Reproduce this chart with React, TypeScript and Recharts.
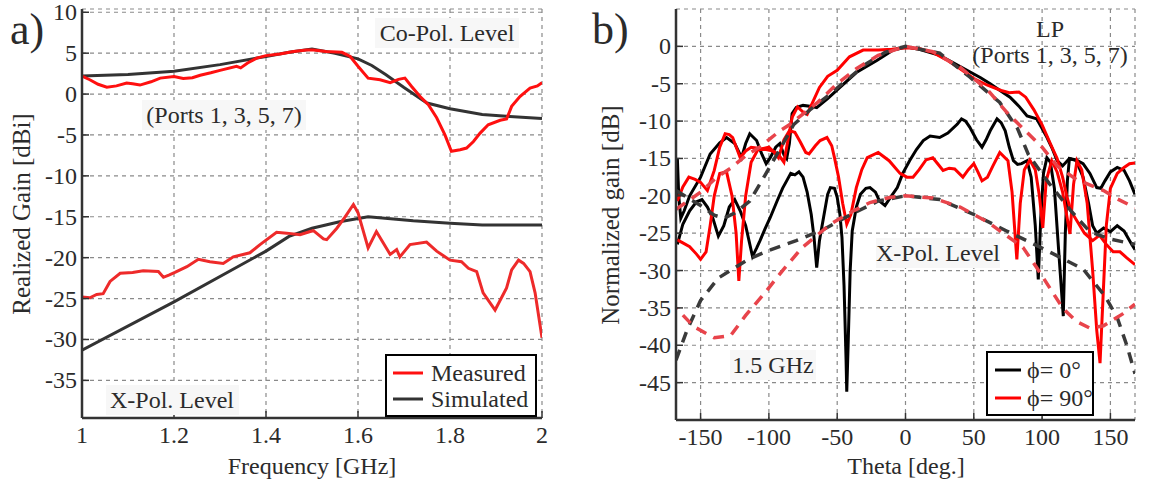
import React from 'react';
import { LineChart, Line, XAxis, YAxis, CartesianGrid } from 'recharts';

const FONT = '"Liberation Serif", "Times New Roman", serif';
const TXT = '#2b2b2b';
const FRAME = '#333333';

// ---------- Panel a) ----------
const freqTicks = [1, 1.2, 1.4, 1.6, 1.8, 2];
const gainTicks = [10, 5, 0, -5, -10, -15, -20, -25, -30, -35];

const coPolMeasured: [number, number][] = [
  [1.0, 2.2], [1.017, 1.75], [1.035, 1.2], [1.054, 0.85], [1.075, 1.0], [1.097, 1.35], [1.11, 1.25],
  [1.126, 1.1], [1.15, 1.5], [1.17, 1.95], [1.2, 2.15], [1.22, 1.9], [1.24, 2.0], [1.257, 2.3],
  [1.28, 2.6], [1.3, 2.9], [1.336, 3.4], [1.345, 3.2], [1.36, 3.8], [1.38, 4.4], [1.4, 4.7],
  [1.43, 4.9], [1.46, 5.2], [1.488, 5.4], [1.503, 5.4], [1.53, 5.2], [1.565, 5.1], [1.583, 4.6],
  [1.6, 3.4], [1.622, 1.95], [1.648, 1.75], [1.67, 1.4], [1.688, 1.8], [1.702, 1.95], [1.717, 0.9],
  [1.735, -0.3], [1.753, -1.3], [1.771, -2.9], [1.789, -5.0], [1.803, -7.0], [1.822, -6.8],
  [1.836, -6.6], [1.851, -5.8], [1.865, -4.8], [1.883, -3.75], [1.909, -3.2], [1.923, -3.05],
  [1.934, -1.5], [1.952, -0.3], [1.974, 0.73], [1.99, 1.0], [2.0, 1.4],
];
const coPolSimulated: [number, number][] = [
  [1.0, 2.2], [1.1, 2.4], [1.2, 2.8], [1.3, 3.6], [1.4, 4.6], [1.45, 5.1], [1.5, 5.5], [1.55, 5.0],
  [1.6, 4.3], [1.63, 3.5], [1.66, 2.4], [1.7, 0.8], [1.75, -1.1], [1.8, -1.8], [1.87, -2.5],
  [1.93, -2.75], [2.0, -3.0],
];
const xPolMeasured: [number, number][] = [
  [1.0, -24.8], [1.017, -24.9], [1.032, -24.5], [1.046, -24.4], [1.061, -22.9], [1.083, -21.9],
  [1.11, -21.8], [1.133, -21.6], [1.166, -21.7], [1.177, -22.4], [1.19, -22.1], [1.202, -21.8],
  [1.228, -21.1], [1.253, -20.2], [1.278, -20.5], [1.307, -20.7], [1.329, -19.9], [1.365, -19.4],
  [1.387, -18.4], [1.423, -16.9], [1.445, -17.0], [1.474, -17.2], [1.496, -16.8], [1.503, -16.7],
  [1.525, -17.7], [1.532, -17.8], [1.554, -16.4], [1.572, -15.0], [1.59, -13.5], [1.6, -14.5],
  [1.622, -18.8], [1.64, -16.8], [1.655, -18.2], [1.67, -19.6], [1.684, -19.0], [1.691, -19.9],
  [1.713, -18.4], [1.749, -18.1], [1.771, -19.2], [1.8, -20.3], [1.825, -20.5], [1.84, -21.3],
  [1.858, -21.7], [1.872, -24.3], [1.898, -26.4], [1.923, -23.7], [1.934, -21.5], [1.949, -20.3],
  [1.96, -20.7], [1.974, -21.7], [1.985, -24.3], [2.0, -29.8],
];
const xPolSimulated: [number, number][] = [
  [1.0, -31.3], [1.2, -25.4], [1.4, -19.2], [1.45, -17.4], [1.5, -16.4], [1.56, -15.6],
  [1.622, -15.0], [1.72, -15.5], [1.8, -15.8], [1.87, -16.0], [2.0, -16.0],
];

// ---------- Panel b) ----------
const thetaTicks = [-150, -100, -50, 0, 50, 100, 150];
const normTicks = [0, -5, -10, -15, -20, -25, -30, -35, -40, -45];

const coPhi0Measured: [number, number][] = [
  [-167, -15], [-166, -20], [-164.5, -23], [-162, -22], [-158, -20], [-150, -17.5], [-143, -14.4],
  [-136, -12.9], [-131, -12.2], [-125, -13], [-120, -14.9], [-117, -13], [-114, -11.7], [-109, -12.6],
  [-105, -14.5], [-102, -15.7], [-99, -14.9], [-95, -13.5], [-92, -13], [-89, -14.5], [-87, -15],
  [-85, -13], [-83, -9], [-80, -8.2], [-75, -7.9], [-70, -8], [-65, -8.2], [-61, -7.6], [-57, -7],
  [-48, -5.5], [-36, -3.5], [-21, -1.9], [-9, -0.5], [1, -0.1], [10, -0.4], [25, -1.2], [35, -2.2],
  [47, -3.4], [55, -4.2], [62, -5], [70, -6], [76.5, -6.8], [83, -8], [89, -9.3], [96, -9.7],
  [100, -11], [103.6, -12.2], [107, -13.5], [111, -15.3], [115, -16], [120, -15], [125, -15.3],
  [130, -17.5], [134, -21], [137, -24], [140, -25], [145, -24.3], [150, -24.8], [155, -24],
  [160, -24.7], [165, -26.3], [168, -27.2],
];
const xPhi0Measured: [number, number][] = [
  [-167, -26.5], [-163, -23.8], [-158, -22], [-153, -20.8], [-149, -20.5], [-145, -21.5], [-141, -23],
  [-137, -25.4], [-133, -24], [-129, -21.5], [-125, -20.5], [-121, -22], [-117, -24], [-112, -28.1],
  [-109, -27], [-106.5, -26], [-103, -24.5], [-99, -22.9], [-94, -20.7], [-90, -19], [-87, -18],
  [-84, -17], [-81, -17.2], [-78, -16.8], [-75, -17.5], [-72, -19.5], [-69, -22.5], [-67, -25.5],
  [-65, -29.6], [-63, -26], [-60, -22.9], [-57, -19.8], [-55, -18.9], [-52, -19], [-50, -20.2],
  [-48, -22.5], [-46.5, -25.6], [-45, -32], [-43.5, -42], [-43, -46.2], [-42, -40], [-40.5, -30],
  [-39, -24.7], [-36, -21.5], [-33, -19.8], [-29, -19], [-26, -18.9], [-22, -19.5], [-19, -20.7],
  [-15, -21.3], [-11, -20.2], [-6, -18.9], [-2, -17], [3, -15.3], [8, -13.8], [13, -12.6], [18, -12],
  [25, -12.2], [31, -11.6], [38, -10.4], [41, -9.7], [44, -10], [47, -10.8], [52, -12.5], [56, -13.5],
  [59, -12.5], [62, -11.3], [67, -9.7], [70, -10.2], [73, -11.3], [76, -13.5], [79, -15.3], [82, -15.8],
  [85, -15.7], [89, -15.3], [92, -17.5], [95, -24], [97.2, -31.2], [99, -23], [101, -17], [103.5, -14.9],
  [106, -15.5], [109, -19], [112, -27], [115.5, -36.1], [117, -25], [118.5, -18], [120, -15], [125, -15.2],
  [130, -15.7], [135, -17], [140, -18.9], [143, -19], [146, -18], [150, -16.8], [155, -16.2], [160, -16.6],
  [164, -18], [168, -19.8],
];
const coPhi90Measured: [number, number][] = [
  [-167, -25.9], [-163, -26.3], [-158, -26.8], [-153, -27.8], [-150, -28.5], [-146, -27.5], [-143, -24],
  [-140, -20], [-136, -17], [-131, -16.8], [-127, -20], [-124, -25], [-122, -31.4], [-120, -26],
  [-117, -20], [-113, -15.5], [-108, -13.8], [-102, -13.8], [-97, -14], [-93, -14.5], [-89, -15.5],
  [-86, -12.5], [-83, -9.5], [-79, -8.1], [-75, -8.8], [-72, -9.1], [-68, -7.5], [-63, -5.5], [-57, -4],
  [-50, -3.2], [-41, -1.4], [-31, -0.5], [-20, -0.5], [-10, -0.4], [0, -0.2], [10, -0.3], [20, -0.8],
  [30, -1.8], [40, -3], [50, -4.3], [60, -5.2], [70, -5.9], [76, -6.2], [83, -6.1], [88, -6.8],
  [94, -8.5], [100, -10.5], [106, -13], [111, -15], [115, -17.5], [118, -20], [121, -22], [126, -23.5],
  [131, -25], [137, -26], [142, -25.3], [147, -26.5], [152, -27.5], [157, -27.5], [162, -28.3], [168, -29.2],
];
const xPhi90Measured: [number, number][] = [
  [-167, -20.7], [-163, -18.8], [-158.6, -17.5], [-154, -17.8], [-150, -18.2], [-145, -19.3], [-140, -16.6],
  [-136, -13.5], [-132, -11.7], [-129, -11.8], [-126.5, -12.2], [-121, -14.9], [-117, -14], [-113, -13.5],
  [-105, -13.7], [-100, -13.5], [-96, -14.2], [-93, -14.9], [-89, -12.5], [-85, -11.3], [-81, -11.5],
  [-77, -12.8], [-73, -14.2], [-70.6, -14.4], [-66, -13.3], [-62.5, -12.6], [-57.5, -12.2], [-54, -13.3],
  [-52, -14.9], [-49, -17.5], [-46, -21], [-43, -23.8], [-40, -22.5], [-36, -18.9], [-32, -16.5],
  [-28, -14.9], [-20, -14.2], [-12, -15.3], [-4, -17], [1, -17.5], [5.5, -17.5], [10, -16.5], [15, -15.2],
  [20, -14.9], [24, -15.8], [27.5, -16.6], [32, -16.3], [36, -16.4], [42, -17.5], [46, -16.5], [50, -15.7],
  [53, -16.8], [56, -18], [60, -17.5], [64, -16], [69, -14.2], [75, -15.3], [78, -19.5], [81.5, -28.5],
  [84, -21], [87, -16.5], [91, -15.2], [95, -16.5], [98, -20], [100.5, -24.3], [103, -18], [107, -15.3],
  [111, -16.8], [115, -19.5], [120.4, -25.1], [123, -18.5], [125.5, -15.3], [129, -16.5], [133, -21],
  [137, -30], [140, -38], [142.4, -42.4], [144.5, -34], [147, -24], [150, -19], [155, -17], [160, -16.2],
  [164, -15.7], [168, -15.6],
];
const coPhi0Simulated: [number, number][] = [
  [-168, -19.3], [-160, -20.2], [-150, -21.3], [-140, -22.6], [-133, -23], [-125, -22.3], [-114, -20.7],
  [-103, -17.3], [-92, -13.8], [-82, -10.5], [-70, -8.5], [-58, -6.8], [-45, -4.8], [-30, -2.5],
  [-15, -0.8], [0, 0], [25, -0.9], [47, -4.1], [69, -7.5], [82, -11], [90, -14.5], [105, -18.3],
  [122, -22.2], [135, -24.8], [150, -25.8], [168, -26.5],
];
const coPhi90Simulated: [number, number][] = [
  [-168, -21.8], [-160, -20.8], [-150, -19.5], [-138, -17.5], [-128, -16.3], [-116, -14.5], [-106, -13.4],
  [-92, -11.3], [-85, -10.5], [-72, -8.6], [-65, -7.6], [-50, -5], [-36, -3], [-20, -1.2], [0, 0],
  [20, -0.7], [40, -2.8], [60, -5.8], [74, -8.8], [86, -11], [100, -13.5], [111, -16], [125, -17.8],
  [145, -19.3], [155, -20.4], [168, -21.6],
];
const xPhi0Simulated: [number, number][] = [
  [-168, -42], [-160, -38], [-150, -34], [-137, -31], [-115, -28.5], [-100, -27.3], [-80, -26],
  [-60, -24.5], [-40, -22.5], [-20, -20.7], [0, -20], [25, -20.5], [50, -22.5], [74, -24.7],
  [100, -27], [130, -29.8], [146, -33.4], [155, -36.3], [162, -40], [168, -43.8],
];
const xPhi90Simulated: [number, number][] = [
  [-168, -35], [-155, -37.5], [-140, -39], [-128, -38.7], [-117, -36], [-103, -33], [-90, -30],
  [-76, -27], [-55, -23.8], [-40, -22.2], [-26, -20.9], [-11, -20.2], [0, -20], [20, -20.3],
  [40, -21.5], [60, -23.5], [86, -26.9], [96, -29.6], [115, -35], [125, -36.8], [135, -37.7],
  [145, -37.4], [159, -35.8], [168, -34.5],
];

const toRows = (pts: [number, number][]) => pts.map(([x, y]) => ({ x, y }));

// ---------- geometry ----------
const A = { w: 570, h: 479, left: 82, right: 542, top: 9, bottom: 418 };
const B = { off: 580, w: 569, h: 479, left: 96, right: 555, top: 9, bottom: 420 };
const TL = 7;

const mkBottomTick = (bottom: number) => (p: any) => (
  <g>
    <line x1={p.x} x2={p.x} y1={bottom} y2={bottom - TL} stroke={FRAME} strokeWidth={1.5} />
    <text x={p.x} y={bottom + 25} textAnchor="middle" fontSize={24} fill={TXT} fontFamily={FONT}>
      {String(p.payload.value)}
    </text>
  </g>
);
const mkTopTick = (top: number) => (p: any) => (
  <line x1={p.x} x2={p.x} y1={top} y2={top + TL} stroke={FRAME} strokeWidth={1.5} />
);
const mkLeftTick = (left: number) => (p: any) => (
  <g>
    <line x1={left} x2={left + TL} y1={p.y} y2={p.y} stroke={FRAME} strokeWidth={1.5} />
    <text x={left - 5} y={p.y + 8} textAnchor="end" fontSize={24} fill={TXT} fontFamily={FONT}>
      {String(p.payload.value)}
    </text>
  </g>
);
const mkRightTick = (right: number) => (p: any) => (
  <line x1={right} x2={right - TL} y1={p.y} y2={p.y} stroke={FRAME} strokeWidth={1.5} />
);

const axisLine = { stroke: FRAME, strokeWidth: 2.5 };

function PanelA() {
  const dom: [number, number] = [1, 2];
  const ydom: [number, number] = [-39.6, 10.4];
  return (
    <LineChart width={A.w} height={A.h} margin={{ top: A.top, right: A.w - A.right, bottom: A.h - A.bottom - 40, left: A.left - 60 }}>
      <CartesianGrid stroke="#8a8a8a" strokeDasharray="4 4" strokeWidth={1.2} />
      <XAxis dataKey="x" type="number" domain={dom} ticks={freqTicks} interval={0} allowDataOverflow height={40}
        tickLine={false} axisLine={axisLine} tick={mkBottomTick(A.bottom)} />
      <XAxis xAxisId="top" orientation="top" dataKey="x" type="number" domain={dom} ticks={freqTicks} interval={0}
        height={0} tickLine={false} axisLine={axisLine} tick={mkTopTick(A.top)} />
      <YAxis type="number" domain={ydom} ticks={gainTicks} interval={0} allowDataOverflow width={60}
        tickLine={false} axisLine={axisLine} tick={mkLeftTick(A.left)} />
      <YAxis yAxisId="right" orientation="right" type="number" domain={ydom} ticks={gainTicks} interval={0}
        width={0} tickLine={false} axisLine={axisLine} tick={mkRightTick(A.right)} />
      <Line data={toRows(coPolSimulated)} dataKey="y" type="linear" dot={false} stroke="#333333" strokeWidth={3} isAnimationActive={false} />
      <Line data={toRows(xPolSimulated)} dataKey="y" type="linear" dot={false} stroke="#333333" strokeWidth={3} isAnimationActive={false} />
      <Line data={toRows(coPolMeasured)} dataKey="y" type="linear" dot={false} stroke="#ff1010" strokeWidth={3} isAnimationActive={false} />
      <Line data={toRows(xPolMeasured)} dataKey="y" type="linear" dot={false} stroke="#ee2a2a" strokeWidth={3} isAnimationActive={false} />
    </LineChart>
  );
}

function PanelB() {
  const dom: [number, number] = [-168, 168];
  const ydom: [number, number] = [-50, 5];
  const dashBlack = { stroke: '#3a3a3a', strokeWidth: 3.5, strokeDasharray: '11 8' };
  const dashRed = { stroke: '#e8444b', strokeWidth: 3.5, strokeDasharray: '11 8' };
  return (
    <LineChart width={B.w} height={B.h} margin={{ top: B.top, right: B.w - B.right, bottom: B.h - B.bottom - 40, left: B.left - 60 }}>
      <CartesianGrid stroke="#8a8a8a" strokeDasharray="4 4" strokeWidth={1.2} />
      <XAxis dataKey="x" type="number" domain={dom} ticks={thetaTicks} interval={0} allowDataOverflow height={40}
        tickLine={false} axisLine={axisLine} tick={mkBottomTick(B.bottom)} />
      <XAxis xAxisId="top" orientation="top" dataKey="x" type="number" domain={dom} ticks={thetaTicks} interval={0}
        height={0} tickLine={false} axisLine={axisLine} tick={mkTopTick(B.top)} />
      <YAxis type="number" domain={ydom} ticks={normTicks} interval={0} allowDataOverflow width={60}
        tickLine={false} axisLine={axisLine} tick={mkLeftTick(B.left)} />
      <YAxis yAxisId="right" orientation="right" type="number" domain={ydom} ticks={normTicks} interval={0}
        width={0} tickLine={false} axisLine={axisLine} tick={mkRightTick(B.right)} />
      <Line data={toRows(coPhi0Measured)} dataKey="y" type="linear" dot={false} stroke="#000000" strokeWidth={3} isAnimationActive={false} />
      <Line data={toRows(xPhi0Measured)} dataKey="y" type="linear" dot={false} stroke="#000000" strokeWidth={3} isAnimationActive={false} />
      <Line data={toRows(coPhi90Measured)} dataKey="y" type="linear" dot={false} stroke="#ff0000" strokeWidth={3} isAnimationActive={false} />
      <Line data={toRows(xPhi90Measured)} dataKey="y" type="linear" dot={false} stroke="#ff0000" strokeWidth={3} isAnimationActive={false} />
      <Line data={toRows(coPhi0Simulated)} dataKey="y" type="linear" dot={false} {...dashBlack} isAnimationActive={false} />
      <Line data={toRows(xPhi0Simulated)} dataKey="y" type="linear" dot={false} {...dashBlack} isAnimationActive={false} />
      <Line data={toRows(coPhi90Simulated)} dataKey="y" type="linear" dot={false} {...dashRed} isAnimationActive={false} />
      <Line data={toRows(xPhi90Simulated)} dataKey="y" type="linear" dot={false} {...dashRed} strokeDashoffset={9} isAnimationActive={false} />
    </LineChart>
  );
}

const T = (props: any) => <text fontFamily={FONT} fill={TXT} fontSize={24} {...props} />;

function Overlay() {
  const bg = '#f7f7f7';
  return (
    <svg width={1149} height={479} style={{ position: 'absolute', left: 0, top: 0, pointerEvents: 'none' }}>
      {/* panel labels */}
      <T x={10} y={44} fontSize={44}>a)</T>
      <T x={592} y={44} fontSize={44}>b)</T>
      {/* axis titles */}
      <T x={312} y={474} fontSize={24} textAnchor="middle">Frequency [GHz]</T>
      <T x={30} y={214} fontSize={25} textAnchor="middle" transform="rotate(-90 30 214)">Realized Gain [dBi]</T>
      <T x={906} y={474} fontSize={24} textAnchor="middle">Theta [deg.]</T>
      <T x={619} y={215} fontSize={25} textAnchor="middle" transform="rotate(-90 619 215)">Normalized gain [dB]</T>
      {/* panel a annotations */}
      <rect x={375} y={18} width={144} height={30} fill={bg} />
      <T x={447} y={41} textAnchor="middle">Co-Pol. Level</T>
      <rect x={142} y={100} width={164} height={30} fill={bg} />
      <T x={224} y={123} textAnchor="middle">(Ports 1, 3, 5, 7)</T>
      <rect x={106} y={385} width={133} height={30} fill={bg} />
      <T x={172} y={408} textAnchor="middle">X-Pol. Level</T>
      {/* panel a legend */}
      <rect x={386} y={355} width={150} height={61} fill="#ffffff" stroke="#000" strokeWidth={2} />
      <line x1={393} x2={423} y1={373} y2={373} stroke="#ff1010" strokeWidth={3} />
      <T x={431} y={381}>Measured</T>
      <line x1={393} x2={423} y1={399} y2={399} stroke="#333333" strokeWidth={3} />
      <T x={431} y={407}>Simulated</T>
      {/* panel b annotations */}
      <T x={1050} y={37} textAnchor="middle">LP</T>
      <T x={1050} y={63} textAnchor="middle">(Ports 1, 3, 5, 7)</T>
      <rect x={876} y={238} width={124} height={30} fill={bg} />
      <T x={938} y={261} textAnchor="middle">X-Pol. Level</T>
      <rect x={730} y={350} width={86} height={30} fill={bg} />
      <T x={773} y={373} textAnchor="middle">1.5 GHz</T>
      {/* panel b legend */}
      <rect x={987} y={352} width={106} height={63} fill="#ffffff" stroke="#000" strokeWidth={2} />
      <line x1={995} x2={1021} y1={370} y2={370} stroke="#000" strokeWidth={3} />
      <T x={1027} y={378}>ϕ= 0°</T>
      <line x1={995} x2={1021} y1={398} y2={398} stroke="#ff0000" strokeWidth={3} />
      <T x={1027} y={406}>ϕ= 90°</T>
    </svg>
  );
}

export default function App() {
  return (
    <div style={{ position: 'absolute', left: 0, top: 0, width: 1149, height: 479, background: '#fff', fontFamily: FONT, overflow: 'hidden' }}>
      <div style={{ position: 'absolute', left: 0, top: 0 }}>
        <PanelA />
      </div>
      <div style={{ position: 'absolute', left: B.off, top: 0 }}>
        <PanelB />
      </div>
      <Overlay />
    </div>
  );
}
